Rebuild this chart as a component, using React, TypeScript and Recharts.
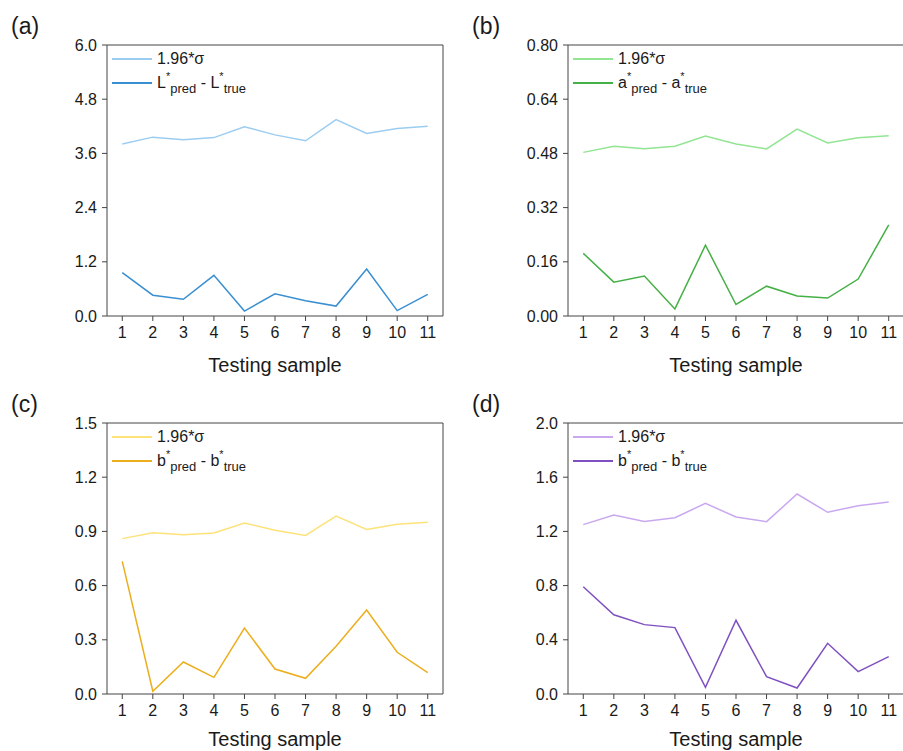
import React from 'react';
import { LineChart, Line, XAxis, YAxis, ReferenceLine } from 'recharts';

const samples = [1, 2, 3, 4, 5, 6, 7, 8, 9, 10, 11];

const lSigma = [3.81, 3.96, 3.9, 3.95, 4.19, 4.01, 3.88, 4.35, 4.04, 4.15, 4.2];
const lDiff = [0.96, 0.46, 0.37, 0.9, 0.11, 0.49, 0.34, 0.22, 1.04, 0.12, 0.48];

const aSigma = [0.483, 0.501, 0.494, 0.501, 0.531, 0.508, 0.493, 0.552, 0.511, 0.526, 0.532];
const aDiff = [0.185, 0.1, 0.118, 0.021, 0.209, 0.034, 0.088, 0.059, 0.053, 0.109, 0.269];

const bSigmaC = [0.86, 0.893, 0.882, 0.891, 0.946, 0.906, 0.878, 0.985, 0.911, 0.939, 0.95];
const bDiffC = [0.734, 0.015, 0.177, 0.092, 0.365, 0.138, 0.087, 0.264, 0.465, 0.231, 0.118];

const bSigmaD = [1.25, 1.321, 1.274, 1.301, 1.407, 1.306, 1.272, 1.476, 1.341, 1.39, 1.417];
const bDiffD = [0.792, 0.585, 0.512, 0.49, 0.049, 0.544, 0.128, 0.044, 0.374, 0.165, 0.276];

const ticksA = [0, 1.2, 2.4, 3.6, 4.8, 6.0];
const ticksB = [0, 0.16, 0.32, 0.48, 0.64, 0.8];
const ticksC = [0, 0.3, 0.6, 0.9, 1.2, 1.5];
const ticksD = [0, 0.4, 0.8, 1.2, 1.6, 2.0];

const FONT = '"Liberation Sans", Arial, sans-serif';
const AXIS = '#444';
const TEXT = '#1a1a1a';

interface PanelProps {
  tag: string;
  left: number;
  top: number;
  sigma: number[];
  diff: number[];
  ticks: number[];
  decimals: number;
  light: string;
  dark: string;
  sym: string;
  labelOffset: number;
}

const supStyle: React.CSSProperties = { fontSize: 11, position: 'relative', top: -8, lineHeight: 0 };
const subStyle: React.CSSProperties = { fontSize: 13, position: 'relative', top: 5, lineHeight: 0 };

function Panel({ tag, left, top, sigma, diff, ticks, decimals, light, dark, sym, labelOffset }: PanelProps) {
  const data = samples.map((x, i) => ({ x, sigma: sigma[i], diff: diff[i] }));
  const yMax = ticks[ticks.length - 1];

  return (
    <div style={{ position: 'absolute', left, top, width: 460, height: 380 }}>
      <div style={{ position: 'absolute', left: 11, top: 13, fontFamily: FONT, fontSize: 23, color: TEXT }}>
        {tag}
      </div>
      <LineChart width={460} height={380} data={data} margin={{ top: 45, right: 17, left: 0, bottom: 0 }}>
        <XAxis
          dataKey="x"
          type="number"
          domain={[0.5, 11.5]}
          ticks={samples}
          allowDataOverflow
          height={64}
          tickSize={5}
          tickMargin={6}
          stroke={AXIS}
          tick={{ fill: TEXT, fontSize: 16, fontFamily: FONT }}
          label={{ value: 'Testing sample', position: 'insideBottom', offset: labelOffset, fill: TEXT, fontSize: 20, fontFamily: FONT }}
        />
        <YAxis
          type="number"
          domain={[0, yMax]}
          ticks={ticks}
          width={107}
          tickSize={5}
          tickMargin={5}
          stroke={AXIS}
          tickFormatter={(v: number) => v.toFixed(decimals)}
          tick={{ fill: TEXT, fontSize: 16, fontFamily: FONT }}
        />
        <ReferenceLine y={yMax} stroke={AXIS} strokeWidth={1} />
        <ReferenceLine x={11.5} stroke={AXIS} strokeWidth={1} />
        <Line dataKey="sigma" stroke={light} strokeWidth={1.5} dot={false} isAnimationActive={false} />
        <Line dataKey="diff" stroke={dark} strokeWidth={1.5} dot={false} isAnimationActive={false} />
      </LineChart>
      <div
        style={{
          position: 'absolute',
          left: 112,
          top: 47,
          fontFamily: FONT,
          fontSize: 16,
          color: TEXT,
          lineHeight: '24px',
        }}
      >
        <div style={{ display: 'flex', alignItems: 'center', height: 24 }}>
          <span style={{ width: 40, height: 2, background: light, marginRight: 5 }} />
          <span>1.96*σ</span>
        </div>
        <div style={{ display: 'flex', alignItems: 'center', height: 24 }}>
          <span style={{ width: 40, height: 2, background: dark, marginRight: 5 }} />
          <span style={{ whiteSpace: 'nowrap' }}>
            {sym}
            <span style={supStyle}>*</span>
            <span style={subStyle}>pred</span> - {sym}
            <span style={supStyle}>*</span>
            <span style={subStyle}>true</span>
          </span>
        </div>
      </div>
    </div>
  );
}

export default function App() {
  return (
    <div style={{ position: 'absolute', left: 0, top: 0, width: 903, height: 751, overflow: 'hidden', background: '#fff' }}>
      <Panel tag="(a)" left={0} top={0} sigma={lSigma} diff={lDiff} ticks={ticksA} decimals={1} light="#9ccdf0" dark="#3a8fd0" sym="L" labelOffset={8} />
      <Panel tag="(b)" left={461} top={0} sigma={aSigma} diff={aDiff} ticks={ticksB} decimals={2} light="#92e592" dark="#45b045" sym="a" labelOffset={8} />
      <Panel tag="(c)" left={0} top={378} sigma={bSigmaC} diff={bDiffC} ticks={ticksC} decimals={1} light="#fde27a" dark="#ecae1c" sym="b" labelOffset={12} />
      <Panel tag="(d)" left={461} top={378} sigma={bSigmaD} diff={bDiffD} ticks={ticksD} decimals={1} light="#c9a8f0" dark="#7f50c0" sym="b" labelOffset={12} />
    </div>
  );
}
